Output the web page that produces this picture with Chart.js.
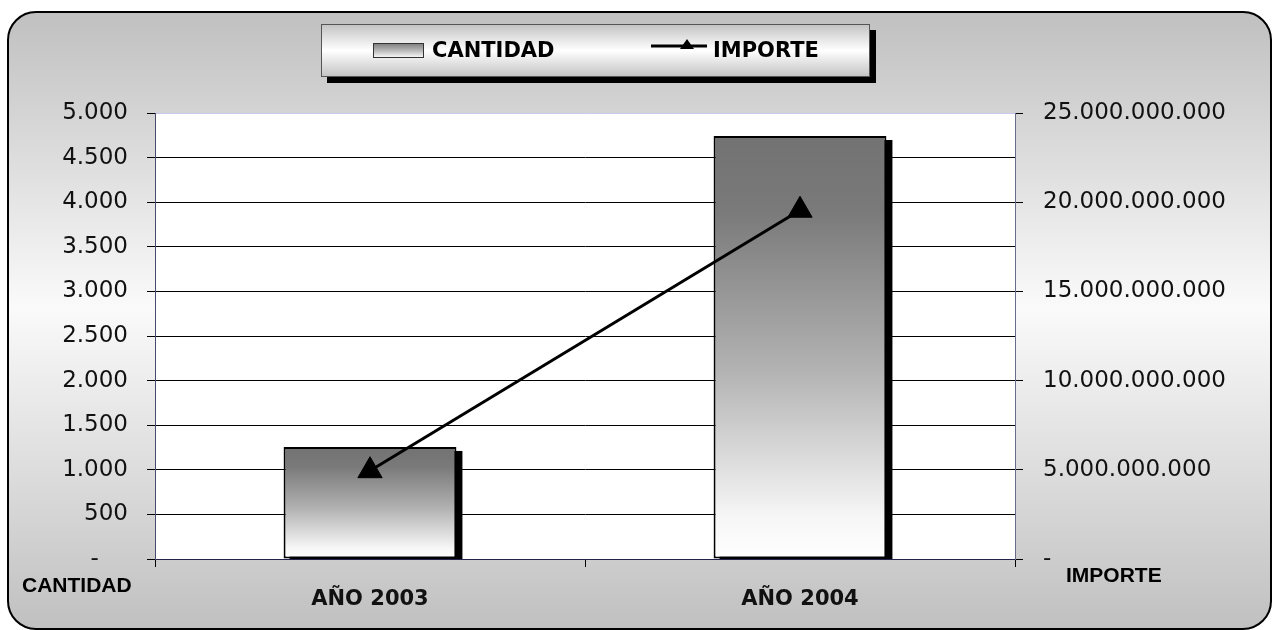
<!DOCTYPE html>
<html><head><meta charset="utf-8">
<script src="https://cdn.jsdelivr.net/npm/chart.js@4"></script>
<style>html,body{margin:0;padding:0;background:#fff;} canvas{display:block;}</style>
</head><body>
<canvas id="c" width="1274" height="630"></canvas>
<script>
const categories = ['AÑO 2003', 'AÑO 2004'];
const cantidadValues = [1256, 4742];
const importeValues = [4950000000, 19550000000];
const cantidadTickLabels = ['-    ', '500', '1.000', '1.500', '2.000', '2.500', '3.000', '3.500', '4.000', '4.500', '5.000'];
const importeTickLabels = ['-', '5.000.000.000', '10.000.000.000', '15.000.000.000', '20.000.000.000', '25.000.000.000'];
const seriesNames = ['CANTIDAD', 'IMPORTE'];
const axisTitles = ['CANTIDAD', 'IMPORTE'];

function barFill(context) {
  const chart = context.chart;
  if (!chart.chartArea || context.type !== 'data') return '#999';
  const ys = chart.scales.y;
  const top = ys.getPixelForValue(context.raw);
  const bottom = ys.getPixelForValue(0);
  const g = chart.ctx.createLinearGradient(0, top, 0, bottom);
  g.addColorStop(0, '#727272');
  g.addColorStop(0.18, '#7a7a7a');
  g.addColorStop(0.55, '#b2b2b2');
  g.addColorStop(0.9, '#f6f6f6');
  g.addColorStop(1, '#ffffff');
  return g;
}

function roundRectPath(ctx, x, y, w, h, r) {
  ctx.beginPath();
  ctx.moveTo(x + r, y);
  ctx.lineTo(x + w - r, y);
  ctx.arcTo(x + w, y, x + w, y + r, r);
  ctx.lineTo(x + w, y + h - r);
  ctx.arcTo(x + w, y + h, x + w - r, y + h, r);
  ctx.lineTo(x + r, y + h);
  ctx.arcTo(x, y + h, x, y + h - r, r);
  ctx.lineTo(x, y + r);
  ctx.arcTo(x, y, x + r, y, r);
  ctx.closePath();
}

const backgroundPlugin = {
  id: 'bg',
  beforeDraw(chart) {
    const ctx = chart.ctx;
    const a = chart.chartArea;
    ctx.save();
    ctx.fillStyle = '#fff';
    ctx.fillRect(0, 0, chart.width, chart.height);
    // outer rounded panel
    const g = ctx.createLinearGradient(0, 12, 0, 629);
    g.addColorStop(0, '#c0c0c0');
    g.addColorStop(0.48, '#fafafa');
    g.addColorStop(1, '#c0c0c0');
    roundRectPath(ctx, 8, 12, 1263, 617, 28);
    ctx.fillStyle = g;
    ctx.fill();
    ctx.lineWidth = 2;
    ctx.strokeStyle = '#000';
    ctx.stroke();
    // plot area
    ctx.fillStyle = '#fff';
    ctx.fillRect(a.left, a.top, a.right - a.left, a.bottom - a.top);
    // legend box with shadow
    ctx.fillStyle = '#000';
    ctx.fillRect(327, 30, 549, 53);
    const lg = ctx.createLinearGradient(0, 24, 0, 77);
    lg.addColorStop(0, '#c2c2c2');
    lg.addColorStop(0.5, '#ffffff');
    lg.addColorStop(1, '#c2c2c2');
    ctx.fillStyle = lg;
    ctx.fillRect(321, 24, 549, 53);
    ctx.lineWidth = 1;
    ctx.strokeStyle = '#555';
    ctx.strokeRect(321.5, 24.5, 548, 52);
    // legend swatch: bars
    const sg = ctx.createLinearGradient(0, 43, 0, 58);
    sg.addColorStop(0, '#7a7a7a');
    sg.addColorStop(0.5, '#b8b8b8');
    sg.addColorStop(1, '#ffffff');
    ctx.fillStyle = sg;
    ctx.fillRect(373, 43, 51, 15);
    ctx.strokeStyle = '#333';
    ctx.strokeRect(373.5, 43.5, 50, 14);
    // legend swatch: line with triangle
    ctx.strokeStyle = '#000';
    ctx.lineWidth = 3;
    ctx.beginPath();
    ctx.moveTo(651, 46);
    ctx.lineTo(707, 46);
    ctx.stroke();
    ctx.fillStyle = '#000';
    ctx.beginPath();
    ctx.moveTo(687, 39);
    ctx.lineTo(694, 49);
    ctx.lineTo(680, 49);
    ctx.closePath();
    ctx.fill();
    // legend text
    ctx.fillStyle = '#000';
    ctx.font = 'bold 21px "DejaVu Sans"';
    ctx.textBaseline = 'alphabetic';
    ctx.textAlign = 'left';
    ctx.fillText(seriesNames[0], 432, 57);
    ctx.fillText(seriesNames[1], 713, 57);
    ctx.restore();
  },
  afterDraw(chart) {
    const ctx = chart.ctx;
    ctx.save();
    ctx.fillStyle = '#000';
    ctx.font = 'bold 21px "Liberation Sans"';
    ctx.textAlign = 'left';
    ctx.textBaseline = 'alphabetic';
    ctx.fillText(axisTitles[0], 22, 592);
    ctx.fillText(axisTitles[1], 1066, 582);
    ctx.restore();
  }
};

const shadowPlugin = {
  id: 'barShadow',
  beforeDatasetsDraw(chart) {
    const meta = chart.getDatasetMeta(0);
    const ctx = chart.ctx;
    const a = chart.chartArea;
    ctx.save();
    ctx.beginPath();
    ctx.rect(a.left, a.top, a.right - a.left, a.bottom - a.top);
    ctx.clip();
    ctx.fillStyle = '#000';
    meta.data.forEach(bar => {
      const p = bar.getProps(['x', 'y', 'base', 'width'], true);
      ctx.fillRect(p.x - p.width / 2 + 6, p.y + 4, p.width, p.base - p.y);
    });
    ctx.restore();
  }
};

const tickFont = { family: 'DejaVu Sans', size: 23 };

new Chart(document.getElementById('c'), {
  data: {
    labels: categories,
    datasets: [
      {
        type: 'bar',
        label: seriesNames[0],
        data: cantidadValues,
        yAxisID: 'y',
        backgroundColor: barFill,
        borderColor: '#000',
        borderWidth: 2,
        borderSkipped: false,
        categoryPercentage: 1,
        barPercentage: 0.402,
        order: 1
      },
      {
        type: 'line',
        label: seriesNames[1],
        data: importeValues,
        yAxisID: 'y1',
        borderColor: '#000',
        borderWidth: 3,
        pointStyle: 'triangle',
        pointRadius: 14,
        pointBackgroundColor: '#000',
        pointBorderColor: '#000',
        pointBorderWidth: 1,
        tension: 0,
        order: 0
      }
    ]
  },
  options: {
    responsive: false,
    devicePixelRatio: 1,
    animation: false,
    events: [],
    layout: { padding: { top: 113, left: 0, right: 0, bottom: 0 } },
    plugins: { legend: { display: false }, tooltip: { enabled: false } },
    scales: {
      x: {
        offset: true,
        grid: { offset: true, drawOnChartArea: false, drawTicks: true, tickLength: 8, color: '#000' },
        border: { color: '#22224a', width: 1 },
        ticks: { font: { family: 'DejaVu Sans', size: 21, weight: 'bold' }, color: '#111', padding: 20, maxRotation: 0 },
        afterFit(s) { s.height = 71; }
      },
      y: {
        position: 'left',
        min: 0, max: 5000,
        ticks: { stepSize: 500, callback: (v, i) => cantidadTickLabels[i], font: tickFont, color: '#111', padding: 19 },
        grid: { color: c => (c.tick && c.tick.value === 5000) ? '#c8c8f0' : '#000', tickColor: '#000', tickLength: 8 },
        border: { color: '#4a4a6a' },
        afterFit(s) { s.width = 155; }
      },
      y1: {
        position: 'right',
        min: 0, max: 25000000000,
        ticks: { stepSize: 5000000000, callback: (v, i) => importeTickLabels[i], font: tickFont, color: '#111', padding: 20 },
        grid: { drawOnChartArea: false, tickLength: 8, color: '#000' },
        border: { color: '#6a6a8a' },
        afterFit(s) { s.width = 259; }
      }
    }
  },
  plugins: [backgroundPlugin, shadowPlugin]
});
</script>
</body></html>
